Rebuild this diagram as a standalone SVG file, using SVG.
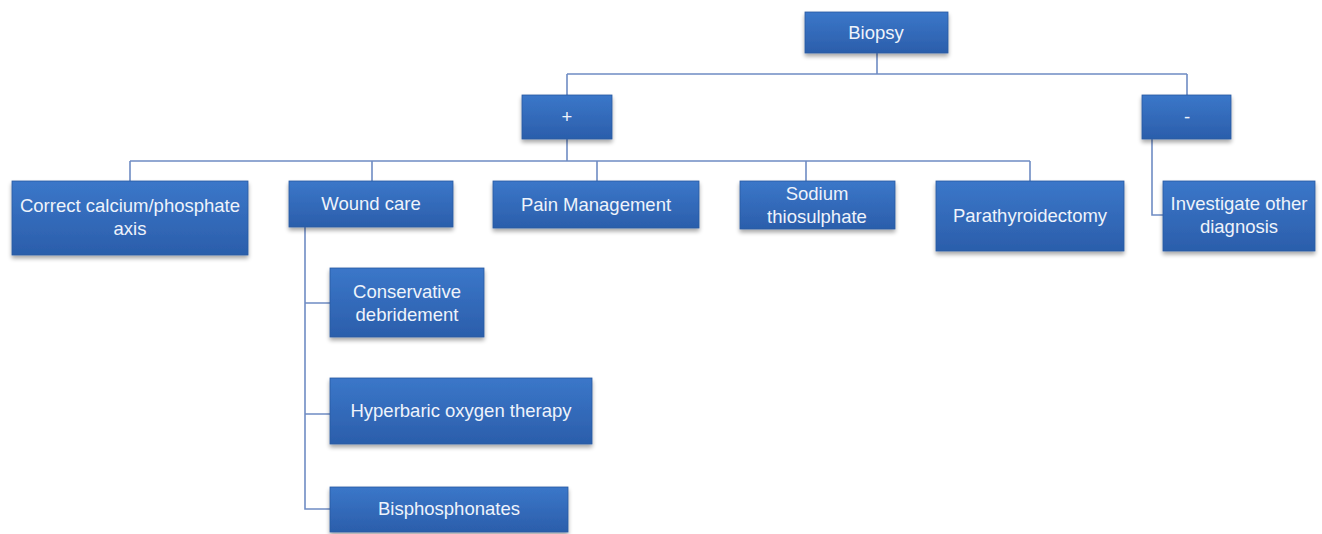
<svg xmlns="http://www.w3.org/2000/svg" width="1322" height="534" viewBox="0 0 1322 534">
<style>
.box{fill:url(#g);stroke:#2a5aa0;stroke-width:0.8;filter:url(#sh)}
.t{font-family:"Liberation Sans",Arial,sans-serif;font-size:18.5px;fill:#eef3fb;text-anchor:middle}
.c{fill:none;stroke:#6f8cc4;stroke-width:1.6}
</style>
<defs>
<linearGradient id="g" x1="0" y1="0" x2="0" y2="1">
<stop offset="0" stop-color="#3b77c9"/>
<stop offset="1" stop-color="#2b5eab"/>
</linearGradient>
<filter id="sh" x="-10%" y="-10%" width="120%" height="140%">
<feGaussianBlur in="SourceAlpha" stdDeviation="2"/>
<feOffset dx="0" dy="3" result="o"/>
<feComponentTransfer><feFuncA type="linear" slope="0.35"/></feComponentTransfer>
<feMerge><feMergeNode/><feMergeNode in="SourceGraphic"/></feMerge>
</filter>
</defs>
<rect width="1322" height="534" fill="#fff"/>
<g id="connectors">
<path class="c" d="M877 53V74M567 74H1187M567 74V95M1187 74V95"/>
<path class="c" d="M567 139V161M130 161H1030M130 161V181M372 161V181M597 161V181M806 161V181M1030 161V181"/>
<path class="c" d="M1152 139V215H1163"/>
<path class="c" d="M305 227V509H330M305 303H330M305 414H330"/>
</g>
<g id="biopsy"><rect class="box" x="805" y="12" width="143" height="41"/><text class="t" x="876" y="39">Biopsy</text></g>
<g id="positive"><rect class="box" x="522" y="95" width="90" height="44"/><text class="t" x="567" y="123">+</text></g>
<g id="negative"><rect class="box" x="1142" y="95" width="89" height="44"/><text class="t" x="1187" y="123">-</text></g>
<g id="calcium"><rect class="box" x="12" y="181" width="236" height="74"/><text class="t" x="130" y="212">Correct calcium/phosphate</text><text class="t" x="130" y="235">axis</text></g>
<g id="wound"><rect class="box" x="289" y="181" width="164" height="46"/><text class="t" x="371" y="210">Wound care</text></g>
<g id="pain"><rect class="box" x="493" y="181" width="206" height="47"/><text class="t" x="596" y="211">Pain Management</text></g>
<g id="sodium"><rect class="box" x="740" y="181" width="155" height="48"/><text class="t" x="817" y="200">Sodium</text><text class="t" x="817" y="223">thiosulphate</text></g>
<g id="parathyroid"><rect class="box" x="936" y="181" width="188" height="70"/><text class="t" x="1030" y="222">Parathyroidectomy</text></g>
<g id="investigate"><rect class="box" x="1163" y="181" width="152" height="70"/><text class="t" x="1239" y="210">Investigate other</text><text class="t" x="1239" y="233">diagnosis</text></g>
<g id="conservative"><rect class="box" x="330" y="268" width="154" height="69"/><text class="t" x="407" y="298">Conservative</text><text class="t" x="407" y="321">debridement</text></g>
<g id="hyperbaric"><rect class="box" x="330" y="378" width="262" height="66"/><text class="t" x="461" y="417">Hyperbaric oxygen therapy</text></g>
<g id="bisphosphonates"><rect class="box" x="330" y="487" width="238" height="45"/><text class="t" x="449" y="515">Bisphosphonates</text></g>
</svg>
